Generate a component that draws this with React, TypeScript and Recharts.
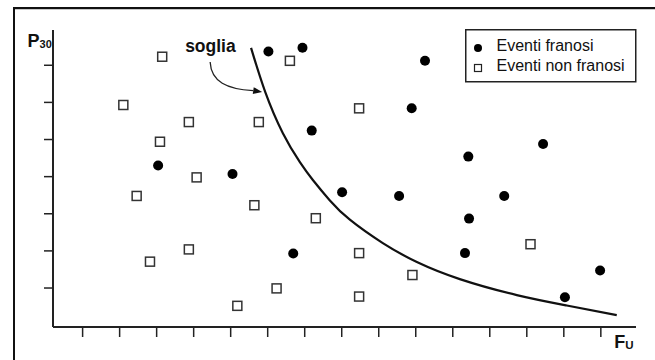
import React from 'react';
import { ComposedChart, XAxis, YAxis, Scatter, Line, Legend, ReferenceDot } from 'recharts';

const FONT = '"Liberation Sans", Arial, Helvetica, sans-serif';

// Eventi franosi (filled circles)
const franosiX = [5.82, 6.74, 6.99, 2.84, 4.85, 10.05, 9.69, 13.24, 11.22, 6.49, 7.81, 9.35, 12.19, 11.24, 11.13, 14.78, 13.83];
const franosiY = [7.42, 7.52, 5.29, 4.35, 4.12, 7.17, 5.89, 4.93, 4.59, 1.98, 3.63, 3.53, 3.53, 2.92, 1.99, 1.52, 0.80];

// Eventi non franosi (open squares)
const nonFranosiX = [2.95, 1.90, 3.67, 5.56, 2.89, 6.40, 3.88, 8.27, 2.26, 5.44, 7.10, 3.67, 2.62, 6.04, 4.98, 8.27, 9.71, 8.27, 12.90];
const nonFranosiY = [7.28, 5.98, 5.52, 5.52, 4.99, 7.17, 4.03, 5.89, 3.53, 3.28, 2.93, 2.09, 1.76, 1.04, 0.57, 1.99, 1.40, 0.82, 2.23];

// Soglia (threshold curve)
const sogliaX = [5.35, 5.73, 6.21, 6.67, 7.02, 7.48, 8.02, 8.91, 9.83, 10.99, 12.53, 13.88, 15.23];
const sogliaY = [7.52, 6.34, 5.22, 4.44, 3.96, 3.41, 2.89, 2.26, 1.75, 1.29, 0.86, 0.58, 0.32];

// Annotation anchor (arrow tip on the curve)
const arrowTip = { x: 5.65, y: 6.33 };

const xTicks = [0.8, 1.8, 2.8, 3.8, 4.8, 5.8, 6.8, 7.8, 8.8, 9.8, 10.8, 11.8, 12.8, 13.8, 14.8];
const yTicks = [1.05, 2.05, 3.05, 4.05, 5.05, 6.05, 7.05];

const seriesNames = ['Eventi franosi', 'Eventi non franosi'];
const yLabelMain = 'P';
const yLabelSub = '30';
const xLabelMain = 'F';
const xLabelSub = 'U';
const annotationText = 'soglia';

const franosi = franosiX.map((x, i) => ({ x, y: franosiY[i] }));
const nonFranosi = nonFranosiX.map((x, i) => ({ x, y: nonFranosiY[i] }));
const soglia = sogliaX.map((x, i) => ({ x, y: sogliaY[i] }));

const CircleShape = (props: any) => {
  const { cx, cy } = props;
  return <circle cx={cx} cy={cy} r={5} fill="#000" />;
};

const SquareShape = (props: any) => {
  const { cx, cy } = props;
  return <rect x={cx - 4.5} y={cy - 4.5} width={9} height={9} fill="#fff" stroke="#333" strokeWidth={1.5} />;
};

const AnnotationShape = (props: any) => {
  const { cx, cy } = props;
  return (
    <g>
      <text x={cx - 77} y={cy - 40.3} fontFamily={FONT} fontWeight="bold" fontSize={17.5} fill="#111">
        {annotationText}
      </text>
      <path
        d={`M${cx - 52},${cy - 30} C${cx - 51},${cy - 10} ${cx - 35},${cy - 3} ${cx - 9},${cy - 1.3}`}
        fill="none"
        stroke="#222"
        strokeWidth={1.3}
      />
      <polygon
        points={`${cx},${cy} ${cx - 8.4},${cy - 4.8} ${cx - 9.4},${cy + 2.1}`}
        fill="#111"
      />
    </g>
  );
};

const YTitle = (props: any) => {
  const vb = props.viewBox || { x: 0, y: 30 };
  return (
    <text x={vb.x + 27.5} y={vb.y + 17} fontFamily={FONT} fontWeight="bold" fill="#111">
      <tspan fontSize={18}>{yLabelMain}</tspan>
      <tspan fontSize={11} dy={1}>{yLabelSub}</tspan>
    </text>
  );
};

const XTitle = (props: any) => {
  const vb = props.viewBox || { x: 53, y: 327, width: 583 };
  return (
    <text x={vb.x + vb.width - 2.5} y={vb.y + 21} textAnchor="end" fontFamily={FONT} fontWeight="bold" fill="#111">
      <tspan fontSize={18}>{xLabelMain}</tspan>
      <tspan fontSize={11.5} dy={0.5}>{xLabelSub}</tspan>
    </text>
  );
};

const LegendBox = (props: any) => {
  const items = (props.payload || []).filter((p: any) => p.type !== 'none');
  return (
    <svg width={172} height={54} style={{ display: 'block' }}>
      <rect x={0.75} y={0.75} width={170} height={52} fill="#fff" stroke="#222" strokeWidth={1.5} />
      {items.map((it: any, i: number) => {
        const cy = 19 + i * 20;
        return (
          <g key={i}>
            {i === 0 ? (
              <circle cx={13} cy={cy} r={4} fill="#000" />
            ) : (
              <rect x={9.5} y={cy - 3.5} width={7} height={7} fill="#fff" stroke="#222" strokeWidth={1.2} />
            )}
            <text x={31.5} y={cy + 2.5} fontFamily={FONT} fontSize={16} fill="#111">
              {it.value}
            </text>
          </g>
        );
      })}
    </svg>
  );
};

export default function App() {
  return (
    <div style={{ position: 'absolute', left: 0, top: 0, width: 655, height: 360, background: '#fff', overflow: 'hidden' }}>
      <div
        style={{
          position: 'absolute',
          left: 13,
          top: 7,
          width: 660,
          height: 370,
          borderTop: '2px solid #111',
          borderLeft: '2px solid #111',
          boxShadow: 'inset 0 1px 0 #c8c8c8',
        }}
      />
      <div style={{ position: 'absolute', left: 0, top: 0 }}>
        <ComposedChart width={655} height={360} margin={{ top: 30, right: 19, bottom: 3, left: 0 }}>
          <XAxis
            type="number"
            dataKey="x"
            domain={[0, 15.75]}
            ticks={xTicks}
            interval={0}
            tickFormatter={() => ''}
            tickSize={10}
            height={30}
            allowDataOverflow
            axisLine={{ stroke: '#222', strokeWidth: 2 }}
            tickLine={{ stroke: '#222', strokeWidth: 1.5 }}
            label={(p: any) => <XTitle {...p} />}
          />
          <YAxis
            type="number"
            dataKey="y"
            domain={[0, 8]}
            ticks={yTicks}
            interval={0}
            tickFormatter={() => ''}
            tickSize={9}
            width={53}
            allowDataOverflow
            axisLine={{ stroke: '#222', strokeWidth: 2 }}
            tickLine={{ stroke: '#222', strokeWidth: 1.5 }}
            label={(p: any) => <YTitle {...p} />}
          />
          <Line
            data={soglia}
            dataKey="y"
            type="natural"
            stroke="#111"
            strokeWidth={2.2}
            dot={false}
            activeDot={false}
            legendType="none"
            isAnimationActive={false}
          />
          <Scatter name={seriesNames[0]} data={franosi} shape={CircleShape} isAnimationActive={false} />
          <Scatter name={seriesNames[1]} data={nonFranosi} shape={SquareShape} isAnimationActive={false} />
          <ReferenceDot x={arrowTip.x} y={arrowTip.y} ifOverflow="visible" shape={AnnotationShape} />
          <Legend
            layout="vertical"
            align="center"
            verticalAlign="middle"
            content={LegendBox}
            wrapperStyle={{ position: 'absolute', left: 465, top: 29, width: 172, height: 54 }}
          />
        </ComposedChart>
      </div>
    </div>
  );
}
